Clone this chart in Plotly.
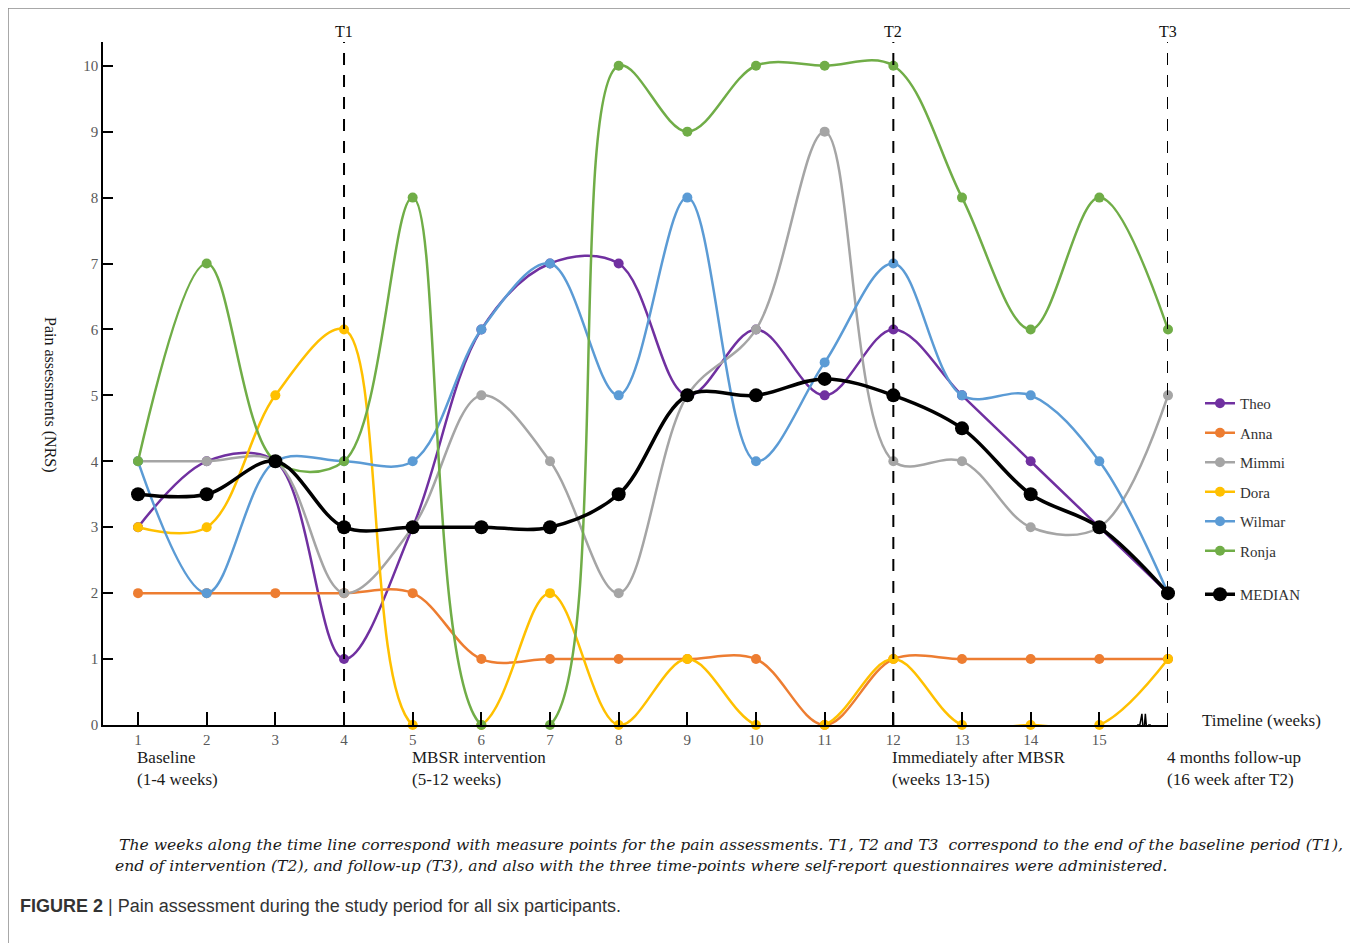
import plotly.graph_objects as go

weeks = list(range(1, 17))
tick_labels = [str(i) for i in range(1, 16)] + [""]

theo   = [3, 4, 4, 1, 3, 6, 7, 7, 5, 6, 5, 6, 5, 4, 3, 2]
anna   = [2, 2, 2, 2, 2, 1, 1, 1, 1, 1, 0, 1, 1, 1, 1, 1]
mimmi  = [4, 4, 4, 2, 3, 5, 4, 2, 5, 6, 9, 4, 4, 3, 3, 5]
dora   = [3, 3, 5, 6, 0, 0, 2, 0, 1, 0, 0, 1, 0, 0, 0, 1]
wilmar = [4, 2, 4, 4, 4, 6, 7, 5, 8, 4, 5.5, 7, 5, 5, 4, 2]
ronja  = [4, 7, 4, 4, 8, 0, 0, 10, 9, 10, 10, 10, 8, 6, 8, 6]
median = [3.5, 3.5, 4, 3, 3, 3, 3, 3.5, 5, 5, 5.25, 5, 4.5, 3.5, 3, 2]

series = [
    ("Theo", theo, "#7030A0"),
    ("Anna", anna, "#ED7D31"),
    ("Mimmi", mimmi, "#A5A5A5"),
    ("Dora", dora, "#FFC000"),
    ("Wilmar", wilmar, "#5B9BD5"),
    ("Ronja", ronja, "#70AD47"),
]

timepoints = [4, 12, 16]
timepoint_labels = ["T1", "T2", "T3"]

SERIF = "Liberation Serif, Times New Roman, serif"


def px(x):
    return (x - 103) / 1065


def py(y):
    return (725 - y) / 683


fig = go.Figure()
for i, (name, vals, col) in enumerate(series):
    fig.add_trace(go.Scatter(
        x=weeks, y=vals, name=name, mode="lines+markers",
        line=dict(color=col, width=2.5, shape="spline", smoothing=1.0),
        marker=dict(color=col, size=10),
        legendgroup="g%d" % i, cliponaxis=False,
    ))
fig.add_trace(go.Scatter(
    x=weeks, y=median, name="MEDIAN", mode="lines+markers",
    line=dict(color="black", width=3.5, shape="spline", smoothing=1.0),
    marker=dict(color="black", size=14),
    legend="legend2", cliponaxis=False,
))

shapes = []
annotations = []
for tp, lab in zip(timepoints, timepoint_labels):
    shapes.append(dict(type="line", xref="x", yref="paper", x0=tp, x1=tp, y0=0, y1=1.0,
                       line=dict(color="black", width=2, dash="12px,10px")))
    annotations.append(dict(x=tp, y=1.0, xref="x", yref="paper", text=lab, showarrow=False,
                            yanchor="bottom", yshift=0,
                            font=dict(family=SERIF, size=16, color="#111")))

# axis break symbol (white gap + zigzag)
shapes.append(dict(type="line", xref="x", yref="y", x0=15.57, x1=15.72, y0=0, y1=0,
                   line=dict(color="white", width=3)))
shapes.append(dict(type="path", xref="x", yref="y",
                   path="M 15.55,0 L 15.59,0 L 15.62,0.17 L 15.645,-0.17 L 15.67,0.17 L 15.695,-0.14 L 15.72,0 L 15.75,0",
                   line=dict(color="black", width=1.5)))
# figure border
shapes.append(dict(type="rect", xref="paper", yref="paper", x0=px(8), x1=px(1356), y0=-0.34, y1=py(8),
                   line=dict(color="#8c8c8c", width=1.5), layer="below"))

period_labels = [
    (1, "Baseline<br>(1-4 weeks)"),
    (5, "MBSR intervention<br>(5-12 weeks)"),
    (12, "Immediately after MBSR<br>(weeks 13-15)"),
    (16, "4 months follow-up<br>(16 week after T2)"),
]
for xv, txt in period_labels:
    annotations.append(dict(x=xv, y=py(746), xref="x", yref="paper", text=txt,
                            showarrow=False, xanchor="left", yanchor="top", align="left",
                            xshift=-3,
                            font=dict(family=SERIF, size=17, color="#1a1a1a")))

annotations.append(dict(x=px(1200), y=py(720), xref="paper", yref="paper",
                        text="Timeline (weeks)", showarrow=False, xanchor="left", yanchor="middle",
                        font=dict(family=SERIF, size=17, color="#1a1a1a")))
annotations.append(dict(x=px(50), y=py(395), xref="paper", yref="paper",
                        text="Pain assessments (NRS)", showarrow=False, textangle=90,
                        xanchor="center", yanchor="middle",
                        font=dict(family=SERIF, size=16, color="#1a1a1a")))
CAP = "DejaVu Serif, Liberation Serif, serif"
annotations.append(dict(x=px(117), y=py(845), xref="paper", yref="paper",
                        text="<i>The weeks along the time line correspond with measure points for the pain assessments. T1, T2 and T3  correspond to the end of the baseline period (T1),</i>",
                        showarrow=False, xanchor="left", yanchor="middle",
                        font=dict(family=CAP, size=15.6, color="#1a1a1a")))
annotations.append(dict(x=px(108), y=py(866), xref="paper", yref="paper",
                        text="<i> end of intervention (T2), and follow-up (T3), and also with the three time-points where self-report questionnaires were administered.</i>",
                        showarrow=False, xanchor="left", yanchor="middle",
                        font=dict(family=CAP, size=15.6, color="#1a1a1a")))
annotations.append(dict(x=px(18), y=py(906), xref="paper", yref="paper",
                        text="<b>FIGURE 2</b> | Pain assessment during the study period for all six participants.",
                        showarrow=False, xanchor="left", yanchor="middle",
                        font=dict(family="Liberation Sans Narrow, Liberation Sans, Arial, sans-serif",
                                  size=18, color="#333")))

fig.update_layout(
    width=1350, height=935,
    margin=dict(l=95, r=190, t=34, b=218),
    paper_bgcolor="white", plot_bgcolor="white",
    font=dict(family=SERIF, size=15, color="#1a1a1a"),
    xaxis=dict(range=[0.49, 16.0], tickvals=weeks, ticktext=tick_labels,
               ticks="inside", ticklen=13, tickwidth=1.5, tickcolor="black",
               showline=True, linecolor="black", linewidth=1.5, showgrid=False, zeroline=False,
               tickfont=dict(family=SERIF, size=15, color="#595959")),
    yaxis=dict(range=[0, 10.36], tickvals=list(range(0, 11)),
               ticks="inside", ticklen=10, tickwidth=1.5, tickcolor="black",
               showline=True, linecolor="black", linewidth=1.5, showgrid=False, zeroline=False,
               tickfont=dict(family=SERIF, size=15, color="#595959")),
    showlegend=True,
    legend=dict(x=px(1200), y=py(387), xanchor="left", yanchor="top",
                tracegroupgap=7, bgcolor="rgba(0,0,0,0)",
                font=dict(family=SERIF, size=15, color="#333")),
    legend2=dict(x=px(1200), y=py(578), xanchor="left", yanchor="top",
                 bgcolor="rgba(0,0,0,0)",
                 font=dict(family=SERIF, size=15, color="#333")),
    shapes=shapes, annotations=annotations,
)

fig.write_html("out.html")
